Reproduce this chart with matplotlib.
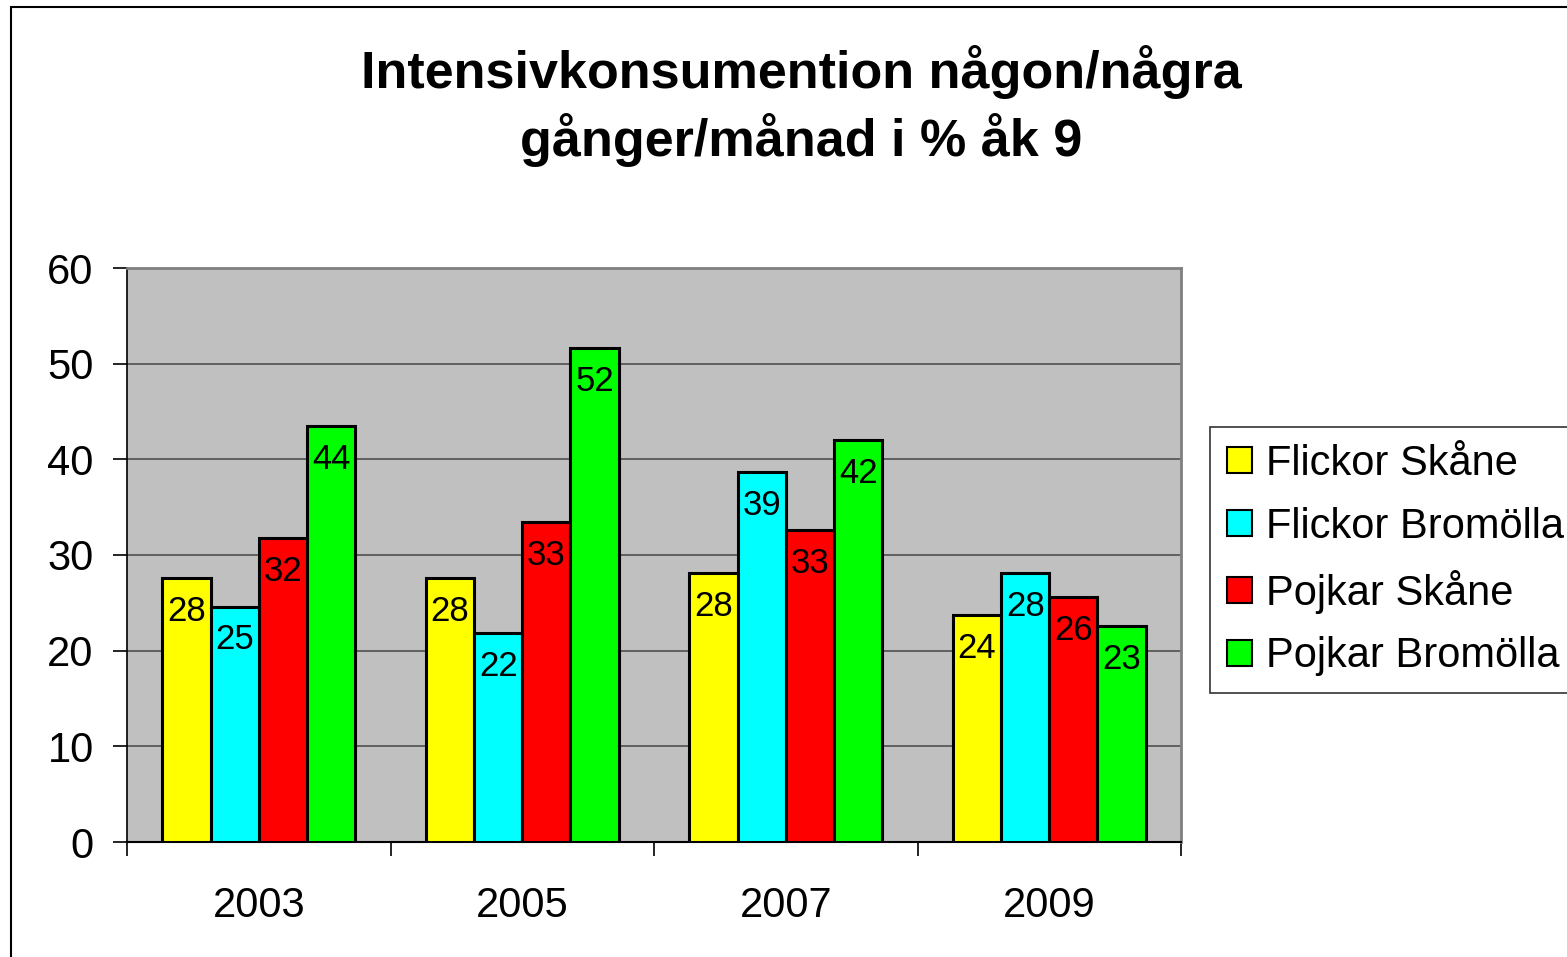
import matplotlib
matplotlib.use("Agg")
import matplotlib.pyplot as plt
import numpy as np
from matplotlib.patches import Rectangle

years = ["2003", "2005", "2007", "2009"]
series_names = ["Flickor Skåne", "Flickor Bromölla", "Pojkar Skåne", "Pojkar Bromölla"]
flickor_skane = [27.6, 27.6, 28.1, 23.7]
flickor_bromolla = [24.6, 21.8, 38.7, 28.1]
pojkar_skane = [31.8, 33.4, 32.6, 25.6]
pojkar_bromolla = [43.5, 51.6, 42.0, 22.6]
labels_fs = ["28", "28", "28", "24"]
labels_fb = ["25", "22", "39", "28"]
labels_ps = ["32", "33", "33", "26"]
labels_pb = ["44", "52", "42", "23"]
colors = ["#FFFF00", "#00FFFF", "#FF0000", "#00FF00"]

values = [flickor_skane, flickor_bromolla, pojkar_skane, pojkar_bromolla]
labels = [labels_fs, labels_fb, labels_ps, labels_pb]

plt.rcParams['font.family'] = ['Liberation Sans', 'DejaVu Sans']

fig = plt.figure(figsize=(15.67, 9.57), dpi=100)
ax = fig.add_axes([127/1567, 1-842/957, (1181-127)/1567, (842-268)/957])
ax.set_facecolor("#C0C0C0")

# figure border (left/top visible)
fig.add_artist(Rectangle((11/1567, -0.05), 2.0, 1 - 7/957 + 0.05, transform=fig.transFigure,
                         fill=False, edgecolor="black", linewidth=1.5))

x = np.arange(len(years))
w = 0.183
for i, (vals, labs, c, name) in enumerate(zip(values, labels, colors, series_names)):
    pos = x + (i - 1.5) * w
    bars = ax.bar(pos, vals, width=w, color=c, edgecolor="black", linewidth=2.2,
                  label=name, zorder=3)
    for b, v, lab in zip(bars, vals, labs):
        ax.annotate(lab, (b.get_x() + b.get_width()/2, v), xytext=(0, -24),
                    textcoords="offset points", ha="center", va="center",
                    fontsize=25, color="black", zorder=4)

ax.set_xlim(-0.5, 3.5)
ax.set_ylim(0, 60)
ax.set_yticks(range(0, 61, 10))
ax.yaxis.grid(True, color="#505050", linewidth=1.2, zorder=1)
ax.set_axisbelow(True)
ax.set_xticks(x)
ax.set_xticklabels(years)
ax.set_xticks(np.arange(-0.5, 3.6, 1), minor=True)
ax.tick_params(axis="x", which="major", length=0, pad=32, labelsize=30)
ax.tick_params(axis="x", which="minor", length=10, width=1.2, color="black")
ax.tick_params(axis="y", length=10, width=1.2, color="black", labelsize=30, pad=14)

for s in ["top", "right"]:
    ax.spines[s].set_color("#808080")
    ax.spines[s].set_linewidth(2)
ax.spines["left"].set_color("black")
ax.spines["left"].set_linewidth(1.2)
ax.spines["bottom"].set_color("black")
ax.spines["bottom"].set_linewidth(1.5)

fig.text(801/1567, 1-72/957, "Intensivkonsumention någon/några", ha="center", va="center",
         fontsize=37.5, fontweight="bold")
fig.text(801/1567, 1-140/957, "gånger/månad i % åk 9", ha="center", va="center",
         fontsize=37.5, fontweight="bold")

leg = fig.legend(loc="upper left", bbox_to_anchor=(1210/1567, 1-427/957), fontsize=30,
                 frameon=True, fancybox=False, edgecolor="black", handlelength=0.6,
                 handleheight=0.6, handletextpad=0.35, labelspacing=0.55,
                 borderpad=0.4, borderaxespad=0)
leg.get_frame().set_linewidth(1.2)
for h in leg.legend_handles:
    h.set_linewidth(1.5)

fig.savefig("out.png", dpi=100)
